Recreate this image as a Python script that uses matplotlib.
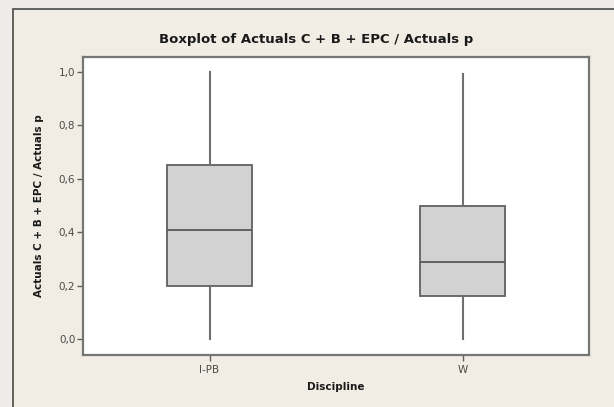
import matplotlib.pyplot as plt
from matplotlib.patches import Rectangle

# five-number summaries per discipline
disciplines = ["I-PB", "W"]
whisker_low = [0.00, 0.00]
q1 = [0.20, 0.16]
median = [0.41, 0.29]
q3 = [0.65, 0.50]
whisker_high = [1.00, 0.99]

yticks = [0.0, 0.2, 0.4, 0.6, 0.8, 1.0]
ytick_labels = ["0,0", "0,2", "0,4", "0,6", "0,8", "1,0"]

W, H = 614, 407
fig = plt.figure(figsize=(W / 100, H / 100), dpi=100)
fig.patch.set_facecolor("#eeece8")

# outer graph frame (runs off the right and bottom edges)
frame = Rectangle((13 / W, -0.01), 1.0, 1.01 - 9 / H, transform=fig.transFigure,
                  facecolor="#f1ede5", edgecolor="#4a4a4a", linewidth=1.2,
                  zorder=-1)
fig.patches.append(frame)

# axes placed in pixel coordinates
left, right, top, bottom = 83, 589, 57, 355
ax = fig.add_axes([left / W, 1 - bottom / H, (right - left) / W,
                   (bottom - top) / H])
ax.set_zorder(1)
ax.set_facecolor("white")

stats = []
for name, lo, a, m, b, hi in zip(disciplines, whisker_low, q1, median, q3,
                                 whisker_high):
    stats.append({"label": name, "whislo": lo, "q1": a, "med": m,
                  "q3": b, "whishi": hi, "fliers": []})

ax.bxp(stats, positions=[1, 2], widths=0.335, showcaps=False,
       patch_artist=True,
       boxprops=dict(facecolor="#d2d2d2", edgecolor="#606060", linewidth=1.3),
       medianprops=dict(color="#5a5a5a", linewidth=1.3),
       whiskerprops=dict(color="#707070", linewidth=1.5))

ax.set_xlim(0.5, 2.5)
ax.set_ylim(-0.0587, 1.055)
ax.set_yticks(yticks)
ax.set_yticklabels(ytick_labels)
ax.set_xticks([1, 2])
ax.set_xticklabels(disciplines)

for s in ax.spines.values():
    s.set_color("#767676")
    s.set_linewidth(1.6)
ax.tick_params(axis="both", direction="out", length=4, width=1,
               color="#606060", labelcolor="#4a4a4a", labelsize=7.5, pad=1.5)
ax.tick_params(axis="x", pad=3)

fig.text(316 / W, 1 - 39 / H, "Boxplot of Actuals C + B + EPC / Actuals p",
         ha="center", va="center", fontsize=9.5, fontweight="bold",
         color="#1a1a1a")
fig.text(336 / W, 1 - 387 / H, "Discipline", ha="center", va="center",
         fontsize=7.5, fontweight="bold", color="#1a1a1a")
fig.text(39 / W, 1 - 206 / H, "Actuals C + B + EPC / Actuals p", ha="center",
         va="center", rotation=90, fontsize=7.5, fontweight="bold",
         color="#1a1a1a")

fig.savefig("out.png", dpi=100, facecolor=fig.get_facecolor())
